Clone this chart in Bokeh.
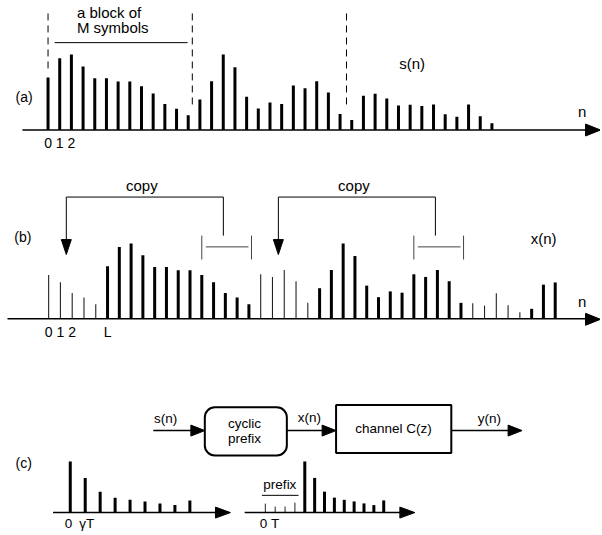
import numpy as np
from bokeh.plotting import figure
from bokeh.models import Range1d
from bokeh.core.properties import value
from bokeh.embed import file_html
from bokeh.resources import INLINE

# ---------------- data ----------------
# s(n): three blocks of M = 13 symbols (stem heights)
s_vals = [52.7, 72.0, 75.7, 63.7, 52.0, 52.0, 48.7, 48.7, 44.0, 36.7, 26.0, 21.3, 14.7,
          30.7, 49.0, 75.7, 63.0, 33.3, 21.7, 27.5, 26.2, 44.7, 42.0, 49.0, 37.7, 16.0,
          10.0, 34.3, 36.5, 31.7, 24.7, 25.3, 24.0, 25.7, 15.7, 13.3, 25.7, 13.7, 6.7]
M = 13          # block length
L = 5           # cyclic prefix length
N_B_SHOWN = 44  # samples of x(n) that are drawn
# channel impulse response c(n) used in panel (c)
c_vals = [51.3, 34.8, 21.0, 15.0, 12.8, 11.2, 9.2, 7.5, 12.2]
prefix_ticks = [9, 6, 6, 10]
labels_a = ["0", "1", "2"]
labels_b = ["0", "1", "2", "L"]
labels_b_idx = [0, 1, 2, L]

# x(n): each block preceded by a copy of its last L samples
blocks = [s_vals[k * M:(k + 1) * M] for k in range(len(s_vals) // M)]
x_vals, x_thin = [], []
for b in blocks:
    x_vals += b[-L:] + b
    x_thin += [True] * L + [False] * M
x_vals = x_vals[:N_B_SHOWN]
x_thin = x_thin[:N_B_SHOWN]

# ---------------- layout constants ----------------
A_BASE, A_X0, A_DX = 130.0, 47.7, 11.72
B_BASE, B_X0, B_DX = 319.5, 48.3, 11.82
FONT = value("Liberation Sans")

p = figure(width=600, height=533, output_backend="svg", toolbar_location=None,
           x_range=Range1d(0, 602), y_range=Range1d(535, 0), min_border=0)
p.axis.visible = False
p.grid.visible = False
p.outline_line_color = None
p.background_fill_color = "white"
p.border_fill_color = "white"


def head(tip_x, tip_y, direction, length, width):
    if direction == "right":
        return [tip_x, tip_x - length, tip_x - length], [tip_y, tip_y - width / 2, tip_y + width / 2]
    if direction == "down":
        return [tip_x, tip_x - width / 2, tip_x + width / 2], [tip_y, tip_y - length, tip_y - length]


heads_x, heads_y = [], []


def add_head(*a):
    hx, hy = head(*a)
    heads_x.append(hx)
    heads_y.append(hy)


def txt(x, y, t, size="15px", align="center"):
    p.text(x=x if isinstance(x, list) else [x], y=y if isinstance(y, list) else [y],
           text=t if isinstance(t, list) else [t], text_font=FONT,
           text_font_size=value(size), text_align=align, text_baseline="middle",
           text_color="black")


# ---------------- panel (a) ----------------
na = np.arange(len(s_vals))
xa = A_X0 + na * A_DX
p.segment(x0=xa, y0=A_BASE, x1=xa, y1=A_BASE - np.array(s_vals), line_width=3, line_color="black")
p.segment(x0=[22], y0=[A_BASE], x1=[590], y1=[A_BASE], line_width=1.5, line_color="black")
add_head(602, A_BASE, "right", 15, 12)
dash_idx = [0, 12.35, 25.55]
dash_bottom = [70, 107, 107]
p.segment(x0=A_X0 + np.array(dash_idx) * A_DX, y0=13, x1=A_X0 + np.array(dash_idx) * A_DX,
          y1=dash_bottom, line_dash="7 5", line_width=1, line_color="black")
p.segment(x0=[54.3], y0=[42.3], x1=[187.7], y1=[42.3], line_width=1, line_color="black")
txt(76.7, 11.7, "a block of", align="left")
txt(76.7, 26.7, "M symbols", align="left")
txt(413, 63.3, "s(n)")
txt(583.7, 111.7, "n")
txt(23.7, 96.7, "(a)", size="14px")
txt([float(A_X0 + i * A_DX) for i in range(3)], [143.5] * 3, labels_a, size="14px")

# ---------------- panel (b) ----------------
nb = np.arange(len(x_vals))
xb = B_X0 + nb * B_DX
xv = np.array(x_vals)
thin = np.array(x_thin)
p.segment(x0=xb[~thin], y0=B_BASE, x1=xb[~thin], y1=B_BASE - xv[~thin], line_width=3, line_color="black")
p.segment(x0=xb[thin], y0=B_BASE, x1=xb[thin], y1=B_BASE - xv[thin], line_width=1.1, line_color="#222222")
p.segment(x0=[7], y0=[B_BASE], x1=[590], y1=[B_BASE], line_width=1.5, line_color="black")
add_head(602, 320, "right", 15, 12)
TOP_Y = 197.3
for k in range(2):
    start = k * (L + M)
    ax_ = B_X0 + (start + 1.5) * B_DX
    rv = B_X0 + (start + L + M - 3 - 0.17) * B_DX
    p.segment(x0=[ax_, ax_, rv], y0=[TOP_Y, TOP_Y, TOP_Y], x1=[rv, ax_, rv], y1=[TOP_Y, 241, 236],
              line_width=1, line_color="black")
    add_head(ax_, 255, "down", 15, 10)
    lt = B_X0 + (start + M) * B_DX
    rt = B_X0 + (start + L + M - 1) * B_DX + 2.6
    p.segment(x0=[lt, rt, lt + 4], y0=[236, 236, 247.3], x1=[lt, rt, rt - 3], y1=[260, 260, 247.3],
              line_width=1, line_color="#444444")
    txt((ax_ + rv) / 2 - 3, 186, "copy")
txt(545, 239.3, "x(n)")
txt(583.5, 301.7, "n")
txt(22.5, 237.3, "(b)", size="14px")
txt([float(B_X0 + i * B_DX) for i in labels_b_idx], [333] * 4, labels_b, size="14px")

# ---------------- panel (c) : block diagram ----------------
LY = 431.7
p.segment(x0=[153.3, 287.3, 452.3], y0=[LY] * 3, x1=[195, 327, 512], y1=[LY] * 3,
          line_width=1.5, line_color="black")
add_head(205, LY, "right", 14, 11)
add_head(336.7, LY, "right", 14, 11)
add_head(523.3, LY, "right", 14, 11)
p.quad(left=[205], right=[287.3], top=[408.3], bottom=[456.7], fill_color=None,
       line_color="black", line_width=2, border_radius=10)
p.quad(left=[336.7], right=[452.3], top=[406], bottom=[454.3], fill_color=None,
       line_color="black", line_width=2)
txt(165.7, 420, "s(n)", size="13.5px")
txt(244.7, 425, "cyclic", size="13.5px")
txt(244.7, 439.3, "prefix", size="13.5px")
txt(310, 418.3, "x(n)", size="13.5px")
txt(394.3, 430, "channel C(z)", size="13.5px")
txt(490.5, 419.3, "y(n)", size="13.5px")
txt(23.3, 464, "(c)", size="14px")

# ---------------- panel (c) : impulse responses ----------------
C_BASE = 514.0
cv = np.array(c_vals)
xc1 = 70 + np.arange(len(c_vals)) * 15.0
p.segment(x0=xc1, y0=C_BASE, x1=xc1, y1=C_BASE - cv, line_width=3, line_color="black")
p.segment(x0=[52.7], y0=[C_BASE], x1=[217], y1=[C_BASE], line_width=1.5, line_color="black")
add_head(230.7, C_BASE, "right", 15, 11)
txt(68.3, 525, "0", size="13.5px")
txt(86.5, 525, "γT", size="13.5px")

DX2 = 9.9
xt = 265.7 + np.arange(len(prefix_ticks)) * DX2
xc2 = 265.7 + (len(prefix_ticks) + np.arange(len(c_vals))) * DX2
p.segment(x0=xt, y0=C_BASE, x1=xt, y1=C_BASE - np.array(prefix_ticks), line_width=1, line_color="#222222")
p.segment(x0=xc2, y0=C_BASE, x1=xc2, y1=C_BASE - cv, line_width=3, line_color="black")
p.segment(x0=[245], y0=[C_BASE], x1=[402], y1=[C_BASE], line_width=1.5, line_color="black")
add_head(415.7, C_BASE, "right", 15, 11)
txt(264, 524.5, "0", size="13.5px")
txt(275.5, 524.5, "T", size="13.5px")
txt(280.3, 486, "prefix", size="13.5px")
p.segment(x0=[262.3], y0=[496.7], x1=[299], y1=[496.7], line_width=1, line_color="black")

p.patches(xs=heads_x, ys=heads_y, fill_color="black", line_color="black", line_width=1)

open("out.html", "w").write(file_html(p, INLINE))
